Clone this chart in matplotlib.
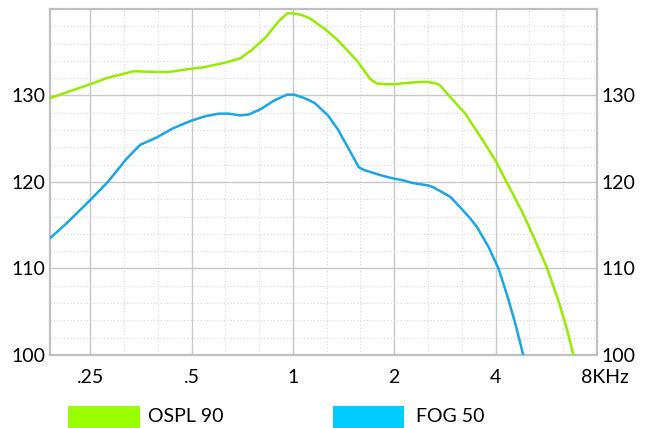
import numpy as np
import matplotlib
matplotlib.use('Agg')
from matplotlib import pyplot as plt
from matplotlib.patches import Rectangle

plt.rcParams['font.family'] = ['Lato', 'DejaVu Sans']

# frequency (kHz) / level (dB)
ospl_f = [0.19, 0.25, 0.279, 0.336, 0.425, 0.5, 0.549, 0.63, 0.698, 0.757, 0.829,
          0.908, 0.962, 1.0, 1.065, 1.125, 1.243, 1.359, 1.552, 1.697, 1.774, 1.896,
          2.0, 2.12, 2.26, 2.48, 2.66, 2.73, 2.89, 3.25, 3.68, 4.02, 4.31, 4.76, 5.14,
          5.68, 6.13, 6.48, 6.81]
ospl_db = [129.7, 131.3, 132.0, 132.8, 132.7, 133.1, 133.3, 133.8, 134.3, 135.3, 136.7,
           138.6, 139.5, 139.5, 139.3, 138.9, 137.7, 136.4, 134.0, 131.9, 131.4, 131.3,
           131.3, 131.4, 131.5, 131.6, 131.4, 131.2, 130.1, 127.9, 124.7, 122.3, 120.0, 116.8, 114.0,
           110.1, 106.4, 103.3, 100.0]

fog_f = [0.19, 0.2125, 0.25, 0.282, 0.321, 0.352, 0.392, 0.44, 0.5, 0.549, 0.602,
         0.645, 0.698, 0.739, 0.801, 0.878, 0.962, 1.007, 1.065, 1.125, 1.163, 1.271,
         1.359, 1.452, 1.57, 1.623, 1.815, 1.99, 2.12, 2.26, 2.52, 2.61, 2.93, 3.17,
         3.36, 3.52, 3.81, 4.08, 4.36, 4.6, 4.83]
fog_db = [113.5, 115.2, 117.9, 120.0, 122.7, 124.3, 125.1, 126.2, 127.1, 127.6, 127.9,
          127.9, 127.7, 127.8, 128.4, 129.4, 130.1, 130.1, 129.8, 129.4, 129.1, 127.7,
          126.1, 124.1, 121.7, 121.4, 120.8, 120.4, 120.2, 119.9, 119.6, 119.4, 118.3, 116.9,
          115.8, 114.8, 112.5, 110.0, 106.5, 103.3, 100.0]

x_ticks = [0.25, 0.5, 1, 2, 4, 8]
x_labels = ['.25', '.5', '1', '2', '4', '']
x_minor = [0.315, 0.397, 0.63, 0.794, 1.26, 1.587, 2.52, 3.17, 5.04, 6.35]
y_ticks = [100, 110, 120, 130]

fig = plt.figure(figsize=(6.46, 4.28), dpi=100)
ax = fig.add_axes([50/646, 1-355/428, 547/646, 346/428])

ax.plot(ospl_f, ospl_db, color='#95ec00', lw=1.8,
        solid_capstyle='round', solid_joinstyle='round', zorder=3)
ax.plot(fog_f, fog_db, color='#18a6e4', lw=1.8,
        solid_capstyle='round', solid_joinstyle='round', zorder=3)

ax.set_xscale('log')
ax.set_xlim(0.19, 8)
ax.set_ylim(100, 140)
ax.set_xticks(x_ticks)
ax.set_xticklabels(x_labels)
ax.set_xticks(x_minor, minor=True)
ax.xaxis.set_minor_formatter(plt.NullFormatter())
ax.set_yticks(y_ticks)
ax.set_yticks(np.arange(100, 141, 2), minor=True)

ax.grid(True, which='major', color='#c8c8c8', lw=1)
ax.grid(True, which='minor', color='#d4d4d4', lw=0.8, ls=(0, (1, 2)))
ax.set_axisbelow(True)

ax.tick_params(which='both', length=0)
ax.tick_params(axis='y', labelsize=14, labelright=True, pad=3.5)
ax.tick_params(axis='x', labelsize=14, pad=10)

for s in ax.spines.values():
    s.set_color('#c0c0c0')
    s.set_linewidth(1.6)

# unit label sits a little right of the 8 kHz edge
ax.annotate('8KHz', xy=(8, 0), xycoords=('data', 'axes fraction'),
            xytext=(6, -10), textcoords='offset points',
            ha='center', va='top', fontsize=14)

# legend boxes along the bottom edge
fig.add_artist(Rectangle((68/646, 0), 72/646, 22/428, transform=fig.transFigure,
                         color='#99ff00', lw=0))
fig.text(148/646, 1-417/428, 'OSPL 90', fontsize=14, va='center', ha='left')
fig.add_artist(Rectangle((333/646, 0), 71/646, 22/428, transform=fig.transFigure,
                         color='#00ccff', lw=0))
fig.text(416/646, 1-417/428, 'FOG 50', fontsize=14, va='center', ha='left')

fig.savefig('out.png', dpi=100)
